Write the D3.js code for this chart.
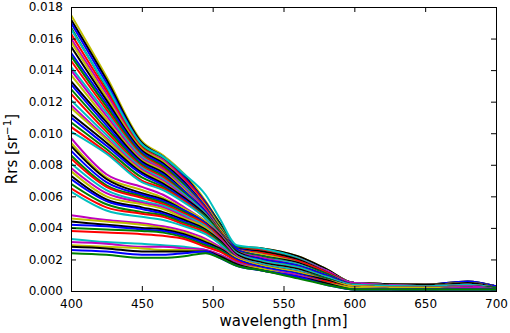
<!DOCTYPE html>
<html>
<head>
<meta charset="utf-8">
<script src="https://cdn.jsdelivr.net/npm/d3@7"></script>
<style>
  body { margin: 0; background: #fff; }
  text { font-family: "DejaVu Sans", sans-serif; }
</style>
</head>
<body>
<svg id="chart" width="510" height="333"></svg>
<script>
// wavelength sample points (nm)
const wavelengths = [400, 425, 450, 465, 480, 495, 505, 517, 535, 560, 580, 600, 650, 680, 700];

// Rrs spectra, in units of 1e-4 sr^-1, one row per spectrum
// clear-ish waters, high blue
const rrsHighBlue = [
  [175,136,95,86,74,57,43,28,27,22,14,5,4,6,3],
  [172,134,94,85,73,56,43,28,27,22,14,5,4,6,3],
  [170,132,93,85,72,56,42,28,26,21,13,5,4,6,3],
  [167,129,92,84,71,55,42,28,26,21,13,5,4,5,3],
  [163,127,91,83,71,55,41,27,26,21,13,5,4,5,3],
  [166,130,93,85,74,61,46,29,27,21,13,5,4,5,3],
  [160,125,90,83,70,54,41,27,25,20,13,5,4,5,3],
  [158,123,90,82,69,54,41,27,25,20,12,5,4,5,3],
  [155,121,89,81,69,53,40,27,25,20,12,5,4,5,3],
  [151,119,88,80,68,53,40,27,24,19,12,5,3,5,3],
  [149,117,87,79,67,52,40,26,24,19,12,5,3,5,2],
  [146,115,86,78,66,52,39,26,24,19,12,5,3,5,2],
  [142,113,85,77,66,51,39,26,23,18,11,5,3,5,2],
  [140,111,84,77,65,51,39,26,23,18,11,5,3,5,2],
  [137,109,83,76,64,50,39,26,23,18,11,4,3,5,2],
  [133,107,82,75,63,50,38,26,22,18,11,4,3,5,2],
  [131,105,81,74,63,50,38,26,22,17,11,4,3,4,2],
  [128,103,80,73,62,49,38,25,22,17,11,4,3,4,2],
  [125,101,79,72,61,49,38,25,21,17,10,4,3,4,2],
  [121,99,78,71,61,49,37,25,21,17,10,4,3,4,2],
  [118,97,77,70,60,48,37,25,21,16,10,4,3,4,2],
  [116,96,76,69,59,48,37,25,20,16,10,4,3,4,2],
  [112,94,75,68,59,48,37,25,20,16,10,4,3,4,2],
  [110,92,74,67,58,47,37,24,20,16,10,4,3,4,2],
  [107,90,72,66,57,47,37,24,19,15,9,4,3,4,2],
  [104,88,70,65,57,46,36,24,19,15,9,4,3,4,2],
  [101,87,69,64,56,46,36,24,19,15,9,4,3,4,2]
];
// intermediate waters
const rrsMid = [
  [97,74,66,61,53,44,36,23,18,14,8,3,2,3,2],
  [94,72,64,59,52,44,35,23,18,14,8,3,2,3,2],
  [92,71,62,58,51,43,35,23,18,14,8,3,2,3,2],
  [89,69,61,57,51,43,34,22,17,13,8,3,2,3,2],
  [86,67,60,56,50,42,34,22,17,13,8,3,2,3,2],
  [84,66,59,55,49,42,34,22,17,13,7,3,2,3,1],
  [81,64,57,54,48,41,33,22,17,13,7,3,2,3,1],
  [78,62,56,53,47,40,33,22,16,12,7,3,2,3,1],
  [76,60,55,52,46,40,32,21,16,12,7,3,2,2,1],
  [73,58,53,50,45,39,32,21,16,12,7,2,2,2,1],
  [71,57,52,49,44,38,31,21,16,12,7,2,2,2,1],
  [68,55,50,48,43,38,31,21,15,11,6,2,2,2,1],
  [65,53,49,47,42,37,30,20,15,11,6,2,2,2,1],
  [63,51,47,45,41,36,30,20,15,11,6,2,2,2,1]
];
// low, flatter spectra
const rrsLow = [
  [48,45,43,41,38,33,28,21,16,12,7,3,2,2,1],
  [46,44,42,40,37,32,27,21,16,12,7,3,2,2,1],
  [44,42,40,39,36,31,27,20,15,11,7,2,1,2,1],
  [42,41,39,38,35,30,26,20,15,11,6,2,1,2,1],
  [40,39,38,37,34,29,26,19,14,10,6,2,1,2,1],
  [38,37,36,35,33,28,25,19,14,10,6,2,1,2,1]
];
// lowest, flat blue-green
const rrsFlat = [
  [33,31,30,29,28,26,23,18,14,10,5,2,1,2,1],
  [31,30,28,28,27,26,23,18,14,10,5,2,1,2,1],
  [29,28,27,26,26,25,22,17,14,9,5,2,1,1,1],
  [28,27,25,25,25,25,22,17,13,9,5,1,1,1,1],
  [26,25,23,23,24,25,21,16,13,9,4,1,1,1,1],
  [24,23,21,21,22,24,21,16,13,8,4,1,1,1,1]
];

const xTicks = [400, 450, 500, 550, 600, 650, 700];
const yTicks = [0, 0.002, 0.004, 0.006, 0.008, 0.010, 0.012, 0.014, 0.016, 0.018];
// matplotlib classic colour cycle b g r c m y k
const lineColors = ["#0000ff", "#008000", "#ff0000", "#00bfbf", "#bf00bf", "#bfbf00", "#000000"];
const colorOffset = 5;

const MARGIN = { left: 71, right: 14, top: 7, bottom: 42 };
const W = 510, H = 333;

const svg = d3.select("#chart");

const x = d3.scaleLinear().domain([400, 700]).range([MARGIN.left, W - MARGIN.right]);
const y = d3.scaleLinear().domain([0, 0.018]).range([H - MARGIN.bottom, MARGIN.top]);

svg.append("clipPath")
  .attr("id", "plot-clip")
  .append("rect")
  .attr("x", x(400))
  .attr("y", y(0.018))
  .attr("width", x(700) - x(400))
  .attr("height", y(0) - y(0.018))

const spectra = [...rrsHighBlue, ...rrsMid, ...rrsLow, ...rrsFlat]
  .map(row => row.map((v, i) => [wavelengths[i], v * 1e-4]))

const line = d3.line()
  .x(d => x(d[0]))
  .y(d => y(d[1]))
  .curve(d3.curveMonotoneX)

svg.append("g")
  .attr("clip-path", "url(#plot-clip)")
  .selectAll("path")
  .data(spectra)
  .join("path")
  .attr("d", line)
  .attr("fill", "none")
  .attr("stroke", (d, i) => lineColors[(i + colorOffset) % lineColors.length])
  .attr("stroke-width", 2)

// axes, ticks inside on all four sides
const tickLen = 5;
svg.append("g")
  .attr("transform", `translate(0,${y(0)})`)
  .call(d3.axisBottom(x).tickValues(xTicks).tickSizeInner(-tickLen).tickSizeOuter(0).tickPadding(8))
svg.append("g")
  .attr("transform", `translate(${x(400)},0)`)
  .call(d3.axisLeft(y).tickValues(yTicks).tickFormat(d3.format(".3f")).tickSizeInner(-tickLen).tickSizeOuter(0).tickPadding(8))
svg.append("g")
  .attr("transform", `translate(0,${y(0.018)})`)
  .call(d3.axisTop(x).tickValues(xTicks).tickFormat("").tickSizeInner(-tickLen).tickSizeOuter(0))
svg.append("g")
  .attr("transform", `translate(${x(700)},0)`)
  .call(d3.axisRight(y).tickValues(yTicks).tickFormat("").tickSizeInner(-tickLen).tickSizeOuter(0))

svg.selectAll(".domain").remove()
svg.selectAll(".tick line").attr("stroke", "#000")
svg.selectAll(".tick text")
  .style("font-size", "12px")
  .attr("fill", "#000")

svg.append("rect")
  .attr("x", x(400) + 0.5)
  .attr("y", y(0.018) + 0.5)
  .attr("width", x(700) - x(400))
  .attr("height", y(0) - y(0.018))
  .attr("fill", "none")
  .attr("stroke", "#000")
  .attr("stroke-width", 1)

svg.append("text")
  .attr("x", (x(400) + x(700)) / 2)
  .attr("y", 326)
  .attr("text-anchor", "middle")
  .style("font-size", "15px")
  .text("wavelength [nm]")

const yl = svg.append("text")
  .attr("transform", `translate(17,${(y(0) + y(0.018)) / 2}) rotate(-90)`)
  .attr("text-anchor", "middle")
  .style("font-size", "15px")
yl.append("tspan").text("Rrs [sr")
yl.append("tspan").attr("dy", -6).style("font-size", "10.5px").text("\u22121")
yl.append("tspan").attr("dy", 6).text("]")
</script>
</body>
</html>
